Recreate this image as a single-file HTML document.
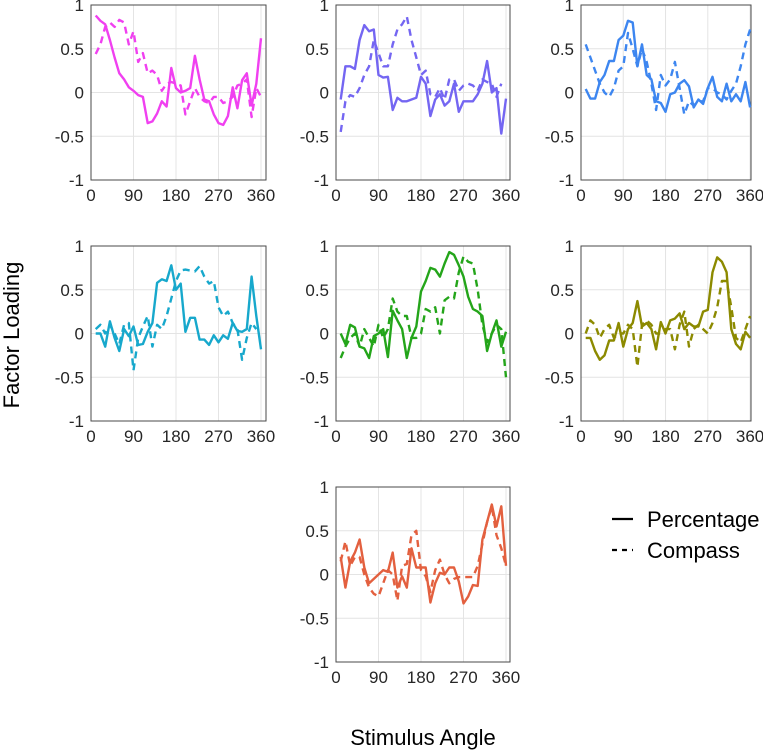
<!DOCTYPE html>
<html><head><meta charset="utf-8"><style>
body{margin:0;background:#fff;}
svg{display:block;font-family:"Liberation Sans",sans-serif;}
</style></head><body>
<svg id="fig" width="763" height="750" viewBox="0 0 763 750">
<text x="19" y="335" font-size="22" text-anchor="middle" transform="rotate(-90 19 335)" fill="#000">Factor Loading</text>
<text x="423" y="745" font-size="22" text-anchor="middle" fill="#000">Stimulus Angle</text>
<g>
<line x1="612" y1="519" x2="633" y2="519" stroke="#000" stroke-width="2.2"/>
<text x="647" y="527" font-size="22" fill="#000">Percentage</text>
<line x1="612" y1="550" x2="633" y2="550" stroke="#000" stroke-width="2.2" stroke-dasharray="5,5"/>
<text x="647" y="558" font-size="22" fill="#000">Compass</text>
</g>
</svg>
<script>
const angles=[10,20,30,40,50,60,70,80,90,100,110,120,130,140,150,160,170,180,190,200,210,220,230,240,250,260,270,280,290,300,310,320,330,340,350,360];
const xTicks=[0,90,180,270,360];
const yTicks=[1,0.5,0,-0.5,-1];
const yTickLabels=["1","0.5","0","-0.5","-1"];
const p1Solid=[0.88,0.82,0.78,0.6,0.4,0.22,0.15,0.06,0.02,-0.03,-0.05,-0.35,-0.33,-0.24,-0.1,-0.16,0.28,0.05,0.0,0.02,0.05,0.42,0.15,-0.08,-0.1,-0.25,-0.35,-0.37,-0.27,0.06,-0.18,0.14,0.22,-0.15,0.1,0.62];
const p1Dash=[0.44,0.55,0.75,0.8,0.75,0.83,0.8,0.55,0.7,0.35,0.45,0.22,0.25,0.2,0.02,0.1,0.12,0.1,0.08,-0.25,-0.1,0.05,-0.05,-0.1,-0.12,-0.05,-0.05,-0.12,-0.1,-0.05,0.08,0.1,0.15,-0.28,0.05,-0.05];
const p2Solid=[-0.08,0.3,0.3,0.27,0.6,0.77,0.7,0.72,0.2,0.17,0.18,-0.2,-0.06,-0.1,-0.1,-0.08,-0.06,0.18,0.1,-0.27,-0.08,-0.02,-0.15,-0.1,0.1,-0.22,-0.1,-0.1,-0.1,-0.02,0.1,0.36,0.0,0.05,-0.47,-0.07];
const p2Dash=[-0.45,-0.1,-0.03,-0.05,0.05,0.2,0.3,0.6,0.45,0.3,0.3,0.55,0.72,0.78,0.87,0.6,0.4,0.2,0.25,-0.02,-0.05,0.05,-0.08,0.15,0.15,0.02,0.08,0.1,0.08,0.02,0.15,0.12,0.1,-0.05,0.1];
const p3Solid=[0.04,-0.07,-0.07,0.12,0.2,0.36,0.36,0.6,0.65,0.82,0.8,0.3,0.55,0.2,0.15,-0.1,-0.12,-0.22,-0.02,0.0,0.1,0.14,0.07,-0.17,-0.08,-0.13,0.05,0.18,-0.05,-0.1,0.1,-0.1,-0.02,-0.1,0.12,-0.17];
const p3Dash=[0.55,0.4,0.25,0.1,0.0,-0.05,0.05,0.25,0.3,0.68,0.5,0.3,0.5,0.35,0.1,-0.2,0.2,0.08,0.15,0.35,0.05,-0.25,-0.1,-0.15,-0.1,-0.1,0.05,0.05,0.0,-0.02,-0.08,0.02,0.1,0.3,0.55,0.72];
const p4Solid=[0.0,0.0,-0.15,0.14,-0.05,-0.2,0.05,-0.03,0.08,-0.13,-0.12,0.02,0.12,0.58,0.62,0.6,0.78,0.5,0.57,0.02,0.18,0.18,-0.07,-0.07,-0.13,-0.02,-0.1,-0.02,-0.06,0.12,0.03,0.02,0.05,0.65,0.2,-0.18];
const p4Dash=[0.05,0.1,0.0,0.1,0.0,-0.12,0.1,0.12,-0.42,-0.05,0.08,0.2,-0.15,0.1,0.05,0.2,0.4,0.6,0.72,0.73,0.72,0.71,0.77,0.65,0.57,0.6,0.3,0.2,0.25,0.12,0.05,-0.3,-0.05,0.12,0.05];
const p5Solid=[0.0,-0.12,0.1,0.07,-0.15,-0.17,-0.28,-0.03,0.0,0.05,-0.27,0.26,0.15,0.05,-0.28,-0.05,0.08,0.48,0.6,0.75,0.73,0.65,0.8,0.93,0.9,0.78,0.65,0.42,0.28,0.25,0.2,-0.2,0.0,0.15,-0.15,0.02];
const p5Dash=[-0.28,-0.15,-0.05,0.0,-0.15,0.05,-0.05,-0.15,0.1,-0.05,0.05,0.4,0.25,0.2,0.2,-0.05,-0.05,0.0,0.28,0.25,0.3,0.0,0.38,0.42,0.4,0.7,0.88,0.82,0.8,0.5,0.1,-0.1,0.0,0.1,0.05,-0.5];
const p6Solid=[-0.05,-0.05,-0.2,-0.3,-0.25,-0.08,-0.08,0.12,-0.15,0.05,0.12,0.37,0.08,0.12,0.05,-0.18,0.13,0.0,0.15,0.17,0.23,0.05,0.12,0.08,0.08,0.25,0.27,0.7,0.87,0.82,0.7,0.05,-0.12,-0.18,0.02,-0.05];
const p6Dash=[0.0,0.15,0.1,-0.05,0.05,0.1,-0.05,0.0,0.0,0.1,0.05,-0.38,0.1,0.15,0.1,0.0,0.0,0.05,0.05,-0.18,0.1,0.25,-0.15,0.05,0.1,0.05,0.0,0.12,0.3,0.6,0.6,0.3,-0.05,-0.1,0.05,0.2];
const p7Solid=[0.2,-0.15,0.15,0.25,0.4,0.08,-0.1,-0.05,0.0,0.05,0.03,0.25,-0.15,-0.02,-0.15,0.3,0.08,0.08,0.08,-0.32,-0.1,0.02,0.0,0.08,0.08,-0.08,-0.33,-0.25,-0.12,-0.13,0.4,0.6,0.8,0.55,0.78,0.1];
const p7Dash=[0.15,0.38,0.1,0.2,0.2,0.0,-0.15,-0.22,-0.25,-0.1,0.05,0.0,-0.3,0.1,0.12,0.45,0.5,0.05,-0.02,-0.2,0.05,0.17,0.0,-0.1,-0.05,-0.03,-0.03,-0.03,-0.03,0.1,0.35,0.6,0.78,0.45,0.3,0.1];

const panels=[
 {name:'factor-1',L:91,T:5,R:266,B:180,xmax:370.6,color:'#f040f0',s:p1Solid,d:p1Dash},
 {name:'factor-2',L:336,T:5,R:510,B:180,xmax:368.5,color:'#7466f2',s:p2Solid,d:p2Dash},
 {name:'factor-3',L:581,T:5,R:751,B:180,xmax:362,color:'#3d86f0',s:p3Solid,d:p3Dash},
 {name:'factor-4',L:91,T:246,R:266,B:421,xmax:370.6,color:'#17a8cc',s:p4Solid,d:p4Dash},
 {name:'factor-5',L:336,T:246,R:510,B:421,xmax:368.5,color:'#24a51a',s:p5Solid,d:p5Dash},
 {name:'factor-6',L:581,T:246,R:751,B:421,xmax:362,color:'#8c8a00',s:p6Solid,d:p6Dash},
 {name:'factor-7',L:336,T:487,R:510,B:662,xmax:368.5,color:'#e3603f',s:p7Solid,d:p7Dash}
];
const NS='http://www.w3.org/2000/svg';
const svg=document.getElementById('fig');
function mk(tag,attrs,parent){const e=document.createElementNS(NS,tag);for(const k in attrs)e.setAttribute(k,attrs[k]);parent.appendChild(e);return e;}
panels.forEach(p=>{
 const g=mk('g',{},svg);
 
 
 const xs=v=>p.L+(v/p.xmax)*(p.R-p.L);
 const ys=v=>p.B-(v+1)/2*(p.B-p.T);
 xTicks.forEach(t=>{
  const x=xs(t);
  if(t>0){const gl=mk('line',{x1:x,y1:p.T,x2:x,y2:p.B,stroke:'#e4e4e4','stroke-width':1},g);
  
  }
  const tl=mk('text',{x:x,y:p.B+21,'font-size':17,'text-anchor':'middle',fill:'#262626'},g);
  tl.textContent=String(t);
  
  
 });
 yTicks.forEach((t,i)=>{
  const y=ys(t);
  if(t>-1&&t<1){const gl=mk('line',{x1:p.L,y1:y,x2:p.R,y2:y,stroke:'#e4e4e4','stroke-width':1},g);
  
  }
  const tl=mk('text',{x:p.L-7,y:y+6,'font-size':17,'text-anchor':'end',fill:'#262626'},g);
  tl.textContent=yTickLabels[i];
  
  
 });
 const box=mk('rect',{x:p.L,y:p.T,width:p.R-p.L,height:p.B-p.T,fill:'none',stroke:'#4a4a4a','stroke-width':1},g);
 
 
 const pts=arr=>arr.map((v,i)=>xs(angles[i]).toFixed(1)+','+ys(v).toFixed(1)).join(' ');
 const ld=mk('polyline',{points:pts(p.d),fill:'none',stroke:p.color,'stroke-width':2.4,'stroke-dasharray':'7,5','stroke-linejoin':'round'},g);
 
 
 const ls=mk('polyline',{points:pts(p.s),fill:'none',stroke:p.color,'stroke-width':2.4,'stroke-linejoin':'round'},g);
 
 
});
</script>
</body></html>
